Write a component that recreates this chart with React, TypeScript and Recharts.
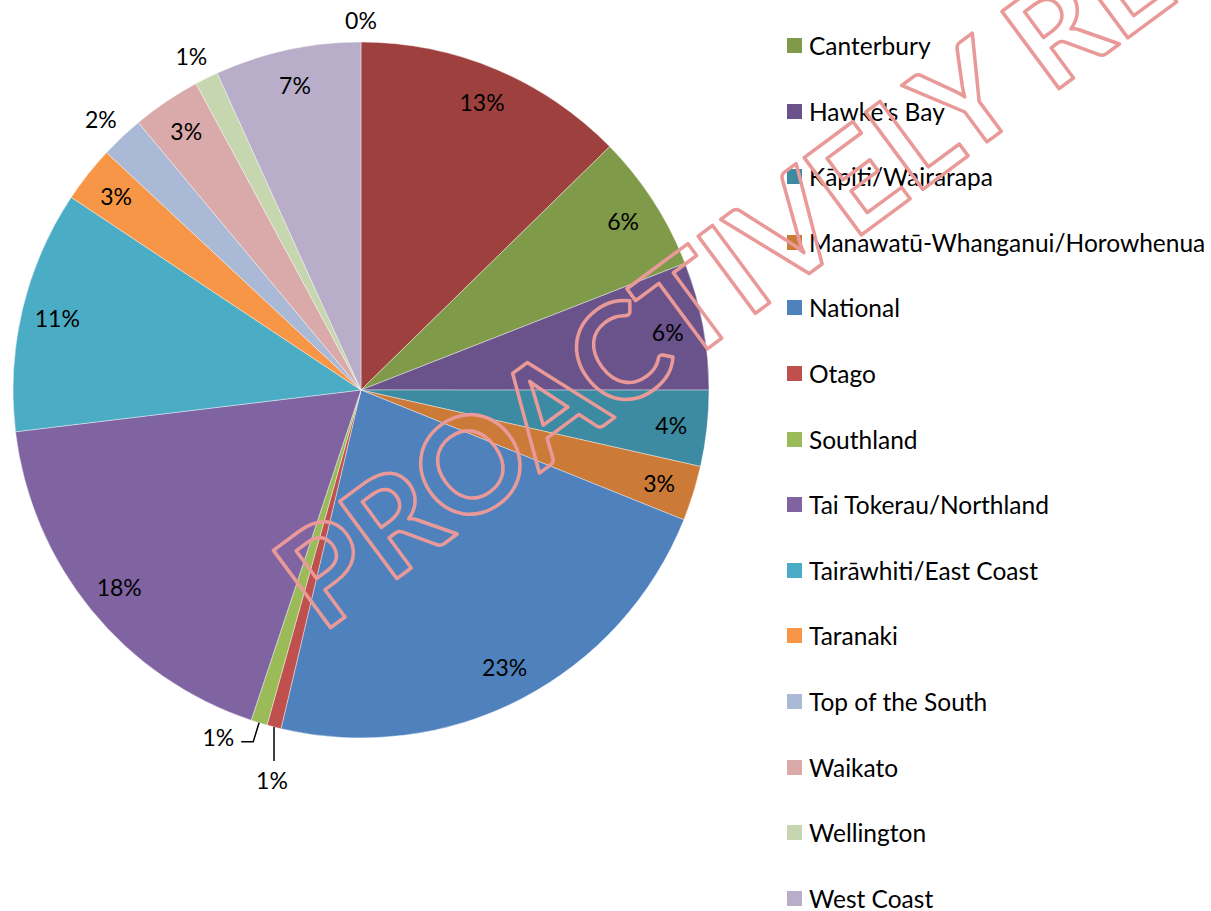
import { PieChart, Pie, Cell } from "recharts";

// regions in sheet order; the first two sit above the visible legend area
const regions = [
  "Auckland",
  "Bay of Plenty",
  "Canterbury",
  "Hawke's Bay",
  "Kāpiti/Wairarapa",
  "Manawatū-Whanganui/Horowhenua",
  "National",
  "Otago",
  "Southland",
  "Tai Tokerau/Northland",
  "Tairāwhiti/East Coast",
  "Taranaki",
  "Top of the South",
  "Waikato",
  "Wellington",
  "West Coast",
];
const shares = [
  0, 12.67, 6.39, 5.94, 3.52, 2.56, 22.6, 0.66, 0.76, 17.97, 11.25, 2.61, 2.0,
  3.19, 1.08, 6.78,
];
const colors = [
  "#3A5F8B",
  "#9E413E",
  "#7F9A48",
  "#69538A",
  "#3D8BA2",
  "#CC7A37",
  "#4F81BD",
  "#C0504D",
  "#9BBB59",
  "#8064A2",
  "#4BACC6",
  "#F79646",
  "#AAB9D6",
  "#D9AAA9",
  "#C6D6AF",
  "#B9AECA",
];
const hiddenLegendCount = 2;
const leaderLabels: Record<string, string> = { Otago: "down", Southland: "left" };

const data = regions.map((name, i) => ({ name, value: shares[i] }));

const FONT = "Lato, 'Open Sans', sans-serif";
const RAD = Math.PI / 180;

function renderLabel(props: any) {
  const { cx, cy, midAngle, outerRadius, percent, index } = props;
  const text = `${Math.round(percent * 100)}%`;
  const cos = Math.cos(-midAngle * RAD);
  const sin = Math.sin(-midAngle * RAD);
  const mode = leaderLabels[regions[index]];
  const common = {
    fill: "#000",
    fontSize: 23,
    fontFamily: FONT,
    dominantBaseline: "central" as const,
  };
  if (mode === "down") {
    const x0 = cx + outerRadius * cos;
    const y0 = cy + outerRadius * sin;
    return (
      <g key={`l${index}`}>
        <line x1={x0} y1={y0} x2={x0} y2={y0 + 34} stroke="#000" strokeWidth={1.5} />
        <text x={x0 - 2} y={y0 + 53} textAnchor="middle" {...common}>
          {text}
        </text>
      </g>
    );
  }
  if (mode === "left") {
    const x0 = cx + outerRadius * cos;
    const y0 = cy + outerRadius * sin;
    const x1 = cx + (outerRadius + 20) * cos;
    const y1 = cy + (outerRadius + 20) * sin;
    return (
      <g key={`l${index}`}>
        <polyline
          points={`${x0},${y0} ${x1},${y1} ${x1 - 12},${y1}`}
          fill="none"
          stroke="#000"
          strokeWidth={1.5}
        />
        <text x={x1 - 19} y={y1 - 5} textAnchor="end" {...common}>
          {text}
        </text>
      </g>
    );
  }
  const r = percent < 0.025 ? outerRadius + 25 : outerRadius * 0.897;
  return (
    <text
      key={`l${index}`}
      x={cx + r * cos - (percent > 0 && percent < 0.025 ? 4 : 0)}
      y={cy + r * sin + (percent === 0 ? 3 : 0)}
      textAnchor="middle"
      {...common}
    >
      {text}
    </text>
  );
}

export default function App() {
  const legendItems = regions.slice(hiddenLegendCount);
  return (
    <div
      style={{
        position: "absolute",
        left: 0,
        top: 0,
        width: 1211,
        height: 911,
        background: "#fff",
        overflow: "hidden",
      }}
    >
      <PieChart
        width={1211}
        height={911}
        margin={{ top: 0, right: 0, bottom: 0, left: 0 }}
      >
        <Pie
          data={data}
          dataKey="value"
          nameKey="name"
          cx={361}
          cy={390}
          outerRadius={348}
          startAngle={90}
          endAngle={-270}
          stroke="#ffffff"
          strokeWidth={0.4}
          label={renderLabel}
          labelLine={false}
          isAnimationActive={false}
        >
          {data.map((d, i) => (
            <Cell key={d.name} fill={colors[i]} />
          ))}
        </Pie>
      </PieChart>

      <div
        style={{
          position: "absolute",
          left: 787,
          top: 12.7,
          fontFamily: FONT,
          fontSize: 24.5,
          color: "#000",
        }}
      >
        {legendItems.map((name, i) => (
          <div
            key={name}
            style={{
              height: 65.6,
              display: "flex",
              alignItems: "center",
              whiteSpace: "nowrap",
            }}
          >
            <span
              style={{
                width: 15,
                height: 15,
                background: colors[i + hiddenLegendCount],
                marginRight: 7,
                display: "inline-block",
                flexShrink: 0,
              }}
            />
            {name}
          </div>
        ))}
      </div>

      <svg
        width={1211}
        height={911}
        style={{ position: "absolute", left: 0, top: 0, pointerEvents: "none" }}
      >
        <text
          x={322}
          y={634}
          transform="rotate(-36.5 322 634)"
          fontFamily={FONT}
          fontWeight={700}
          fontSize={133}
          fill="none"
          stroke="#E99A98"
          strokeWidth={3.5}
          strokeLinejoin="round"
        >
          PROACTIVELY RELEASED
        </text>
      </svg>
    </div>
  );
}
